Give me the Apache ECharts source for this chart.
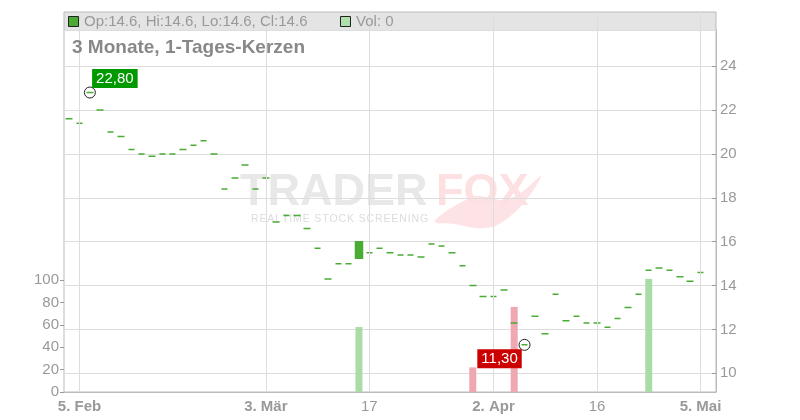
<!DOCTYPE html>
<html><head><meta charset="utf-8">
<script src="https://cdn.jsdelivr.net/npm/echarts@6/dist/echarts.min.js"></script>
<style>html,body{margin:0;padding:0;background:#fff}#c{width:800px;height:420px}</style>
</head><body><div id="c"></div>
<script>
const dates = ['2025-02-04','2025-02-05','2025-02-06','2025-02-07','2025-02-10','2025-02-11','2025-02-12','2025-02-13','2025-02-14','2025-02-17','2025-02-18','2025-02-19','2025-02-20','2025-02-21','2025-02-24','2025-02-25','2025-02-26','2025-02-27','2025-02-28','2025-03-03','2025-03-04','2025-03-05','2025-03-06','2025-03-07','2025-03-10','2025-03-11','2025-03-12','2025-03-13','2025-03-14','2025-03-17','2025-03-18','2025-03-19','2025-03-20','2025-03-21','2025-03-24','2025-03-25','2025-03-26','2025-03-27','2025-03-28','2025-03-31','2025-04-01','2025-04-02','2025-04-03','2025-04-04','2025-04-07','2025-04-08','2025-04-09','2025-04-10','2025-04-11','2025-04-14','2025-04-15','2025-04-16','2025-04-17','2025-04-22','2025-04-23','2025-04-24','2025-04-25','2025-04-28','2025-04-29','2025-04-30','2025-05-02','2025-05-05','2025-05-06'];
const opens = [21.6,21.4,22.8,22.0,21.0,20.8,20.2,20.0,19.9,20.0, 20.0,20.2,20.4,20.6,20.0,18.4,18.9,19.5,18.4,18.9, 16.9,17.2,17.2,16.6,15.7,14.3,15.0,15.0,15.25,15.5, 15.7,15.5,15.4,15.4,15.3,15.9,15.8,15.5,14.9,14.0, 13.5,13.5,13.8,12.3,11.3,12.6,11.8,13.6,12.4,12.6, 12.3,12.3,12.1,12.5,13.0,13.6,14.7,14.8,14.7,14.4, 14.2,14.6,null];
const closes = [21.6,21.4,22.8,22.0,21.0,20.8,20.2,20.0,19.9,20.0, 20.0,20.2,20.4,20.6,20.0,18.4,18.9,19.5,18.4,18.9, 16.9,17.2,17.2,16.6,15.7,14.3,15.0,15.0,16.0,15.5, 15.7,15.5,15.4,15.4,15.3,15.9,15.8,15.5,14.9,14.0, 13.5,13.5,13.8,12.3,11.3,12.6,11.8,13.6,12.4,12.6, 12.3,12.3,12.1,12.5,13.0,13.6,14.7,14.8,14.7,14.4, 14.2,14.6,null];
const highs = [21.6,21.4,22.8,22.0,21.0,20.8,20.2,20.0,19.9,20.0, 20.0,20.2,20.4,20.6,20.0,18.4,18.9,19.5,18.4,18.9, 16.9,17.2,17.2,16.6,15.7,14.3,15.0,15.0,16.0,15.5, 15.7,15.5,15.4,15.4,15.3,15.9,15.8,15.5,14.9,14.0, 13.5,13.5,13.8,12.3,11.3,12.6,11.8,13.6,12.4,12.6, 12.3,12.3,12.1,12.5,13.0,13.6,14.7,14.8,14.7,14.4, 14.2,14.6,null];
const lows = [21.6,21.4,22.8,22.0,21.0,20.8,20.2,20.0,19.9,20.0, 20.0,20.2,20.4,20.6,20.0,18.4,18.9,19.5,18.4,18.9, 16.9,17.2,17.2,16.6,15.7,14.3,15.0,15.0,15.25,15.5, 15.7,15.5,15.4,15.4,15.3,15.9,15.8,15.5,14.9,14.0, 13.5,13.5,13.8,12.3,11.3,12.6,11.8,13.6,12.4,12.6, 12.3,12.3,12.1,12.5,13.0,13.6,14.7,14.8,14.7,14.4, 14.2,14.6,null];
const volumes = [0,0,0,0,0,0,0,0,0,0, 0,0,0,0,0,0,0,0,0,0, 0,0,0,0,0,0,0,0,58,0, 0,0,0,0,0,0,0,0,0,22, 0,0,0,76,0,0,0,0,0,0, 0,0,0,0,0,0,101,0,0,0, 0,0,null];
const tickDates = ['2025-02-05','2025-03-03','2025-03-17','2025-04-02','2025-04-16','2025-05-05'];
const tickLabels = ['5. Feb','3. Mär','17','2. Apr','16','5. Mai'];
const tickBold = [true,true,false,true,false,true];
const priceTicks = [10,12,14,16,18,20,22,24];
const volTicks = [0,20,40,60,80,100];
const titleText = '3 Monate, 1-Tages-Kerzen';

const FONT = '"Liberation Sans", Arial, sans-serif';
const GREEN = '#4aab35';
const candleData = dates.map((d,i)=> opens[i]==null ? '-' : [opens[i], closes[i], lows[i], highs[i]]);
const volData = volumes.map((v,i)=>{
  if (v==null) return '-';
  const up = i===0 || closes[i] >= closes[i-1];
  return {value: v, itemStyle: {color: up ? '#a9dca6' : '#efa8b1'}};
});
let hiIdx = 0, loIdx = 0;
highs.forEach((h,i)=>{ if(h!=null && h>highs[hiIdx]) hiIdx=i; });
lows.forEach((l,i)=>{ if(l!=null && l<lows[loIdx]) loIdx=i; });
let last = 0; closes.forEach((c,i)=>{ if(c!=null) last=i; });
const fmt = v => v.toFixed(2).replace('.', ',');
const legendText = 'Op:' + opens[last] + ', Hi:' + highs[last] + ', Lo:' + lows[last] + ', Cl:' + closes[last];
const volText = 'Vol: ' + volumes[last];

const isTick = (idx, val) => tickDates.indexOf(val) >= 0;
const sub = 'REALTIME STOCK SCREENING'.split('').join('\u200A');

const chart = echarts.init(document.getElementById('c'), null, {renderer:'canvas'});
chart.setOption({
  animation: false,
  backgroundColor: '#fff',
  textStyle: {fontFamily: FONT},
  grid: [
    {left: 64, right: 84, top: 30, bottom: 28, show: false},
    {left: 64, right: 84, top: 280, bottom: 28, show: false},
    {left: 64, right: 84, top: 12, bottom: 28, show: true, borderColor: '#bbb', borderWidth: 1, backgroundColor: 'transparent'}
  ],
  xAxis: [
    {type: 'category', gridIndex: 0, data: dates, show: false, boundaryGap: true},
    {type: 'category', gridIndex: 1, data: dates, show: false, boundaryGap: true},
    {type: 'category', gridIndex: 2, data: dates, boundaryGap: true,
      axisLine: {lineStyle: {color: '#bbb'}},
      axisTick: {show: false},
      axisLabel: {interval: isTick, color: '#999', fontSize: 15, margin: 7, fontFamily: FONT,
        formatter: (val) => { const k = tickDates.indexOf(val); if (k<0) return ''; return tickBold[k] ? '{b|' + tickLabels[k] + '}' : tickLabels[k]; },
        rich: {b: {fontWeight: 'bold', color: '#999', fontSize: 15, fontFamily: FONT}}},
      splitLine: {show: false}
    }
  ],
  yAxis: [
    {type: 'value', gridIndex: 0, position: 'right', min: 9.15, max: 25.65, splitNumber: 8, scale: true,
      axisLine: {show: true, lineStyle: {color: '#bbb'}},
      axisTick: {show: true, inside: true, length: 4, lineStyle: {color: '#999'}},
      axisLabel: {color: '#999', fontSize: 15, margin: 4, fontFamily: FONT, showMinLabel: false, showMaxLabel: false,
        formatter: v => priceTicks.indexOf(v) >= 0 ? String(v) : ''},
      splitLine: {show: true, lineStyle: {color: '#ddd', width: 1}}
    },
    {type: 'value', gridIndex: 1, position: 'left', min: 0, max: 100, interval: 20,
      axisLine: {show: false},
      axisTick: {show: true, length: 4, lineStyle: {color: '#999'}},
      axisLabel: {color: '#999', fontSize: 15, margin: 5, fontFamily: FONT,
        formatter: v => volTicks.indexOf(v) >= 0 ? String(v) : ''},
      splitLine: {show: false}
    },
    {type: 'value', gridIndex: 2, show: false, min: 0, max: 1}
  ],
  series: [
    {type: 'line', xAxisIndex: 2, yAxisIndex: 2, data: dates.map(()=>'-'), z: 0, silent: true, symbol: 'none',
      markLine: {silent: true, symbol: 'none', label: {show: false}, animation: false,
        lineStyle: {color: '#ddd', width: 1, type: 'solid'},
        data: tickDates.map(d => ({xAxis: d}))}
    },
    {type: 'bar', xAxisIndex: 1, yAxisIndex: 1, data: volData, barWidth: 7, clip: false, z: 1},
    {type: 'candlestick', xAxisIndex: 0, yAxisIndex: 0, data: candleData, barWidth: 7, clip: false, z: 3,
      itemStyle: {color: GREEN, color0: GREEN, borderColor: GREEN, borderColor0: GREEN, borderColorDoji: GREEN, borderWidth: 1.5}},
    {type: 'scatter', xAxisIndex: 0, yAxisIndex: 0, z: 5, symbol: 'circle', symbolSize: 11,
      itemStyle: {color: 'rgba(0,0,0,0)', borderColor: '#222', borderWidth: 1, opacity: 1},
      data: [
        {value: [hiIdx, highs[hiIdx]], label: {show: true, position: 'inside', offset: [25, -14], formatter: fmt(highs[hiIdx]),
          backgroundColor: '#009900', color: '#fff', fontSize: 15, fontFamily: FONT, padding: [2, 4, 1, 4], lineHeight: 16, opacity: 1}},
        {value: [loIdx, lows[loIdx]], label: {show: true, position: 'inside', offset: [-25, 14], formatter: fmt(lows[loIdx]),
          backgroundColor: '#cc0000', color: '#fff', fontSize: 15, fontFamily: FONT, padding: [2, 4, 1, 4], lineHeight: 16, opacity: 1}}
      ]
    }
  ],
  graphic: [
    {type: 'rect', shape: {x: 64, y: 12, width: 652, height: 18}, style: {fill: '#e4e4e4'}, z: -1},
    {type: 'text', x: 240, y: 193, z: -2, style: {text: 'TRADER', font: 'bold 45px ' + FONT, fill: '#e8e8e8', verticalAlign: 'middle'}},
    {type: 'polygon', z: -2, shape: {smooth: 0.35, points: [[435,222],[455,224],[475,228],[495,226],[515,212],[530,195],[541,176],[522,192],[505,200],[490,198],[475,196],[460,203],[445,212]]}, style: {fill: '#fde3e5'}},
    {type: 'text', x: 436, y: 193, z: -2, style: {text: 'FOX', font: 'bold 45px ' + FONT, fill: '#fde0e2', verticalAlign: 'middle'}},
    {type: 'text', x: 251, y: 219, z: -2, style: {text: sub, font: '10.5px ' + FONT, fill: '#dcdcdc', verticalAlign: 'middle'}},
    {type: 'rect', shape: {x: 68.5, y: 16.5, width: 10, height: 10}, style: {fill: '#4aaa33', stroke: '#222', lineWidth: 1}, z: 10},
    {type: 'text', x: 84, y: 22, z: 10, style: {text: legendText, font: '15px ' + FONT, fill: '#999', verticalAlign: 'middle'}},
    {type: 'rect', shape: {x: 340.5, y: 16.5, width: 10, height: 10}, style: {fill: '#b0dfae', stroke: '#222', lineWidth: 1}, z: 10},
    {type: 'text', x: 356, y: 22, z: 10, style: {text: volText, font: '15px ' + FONT, fill: '#999', verticalAlign: 'middle'}},
    {type: 'text', x: 72, y: 48, z: 10, style: {text: titleText, font: 'bold 19px ' + FONT, fill: '#888', verticalAlign: 'middle'}}
  ]
});
</script></body></html>
